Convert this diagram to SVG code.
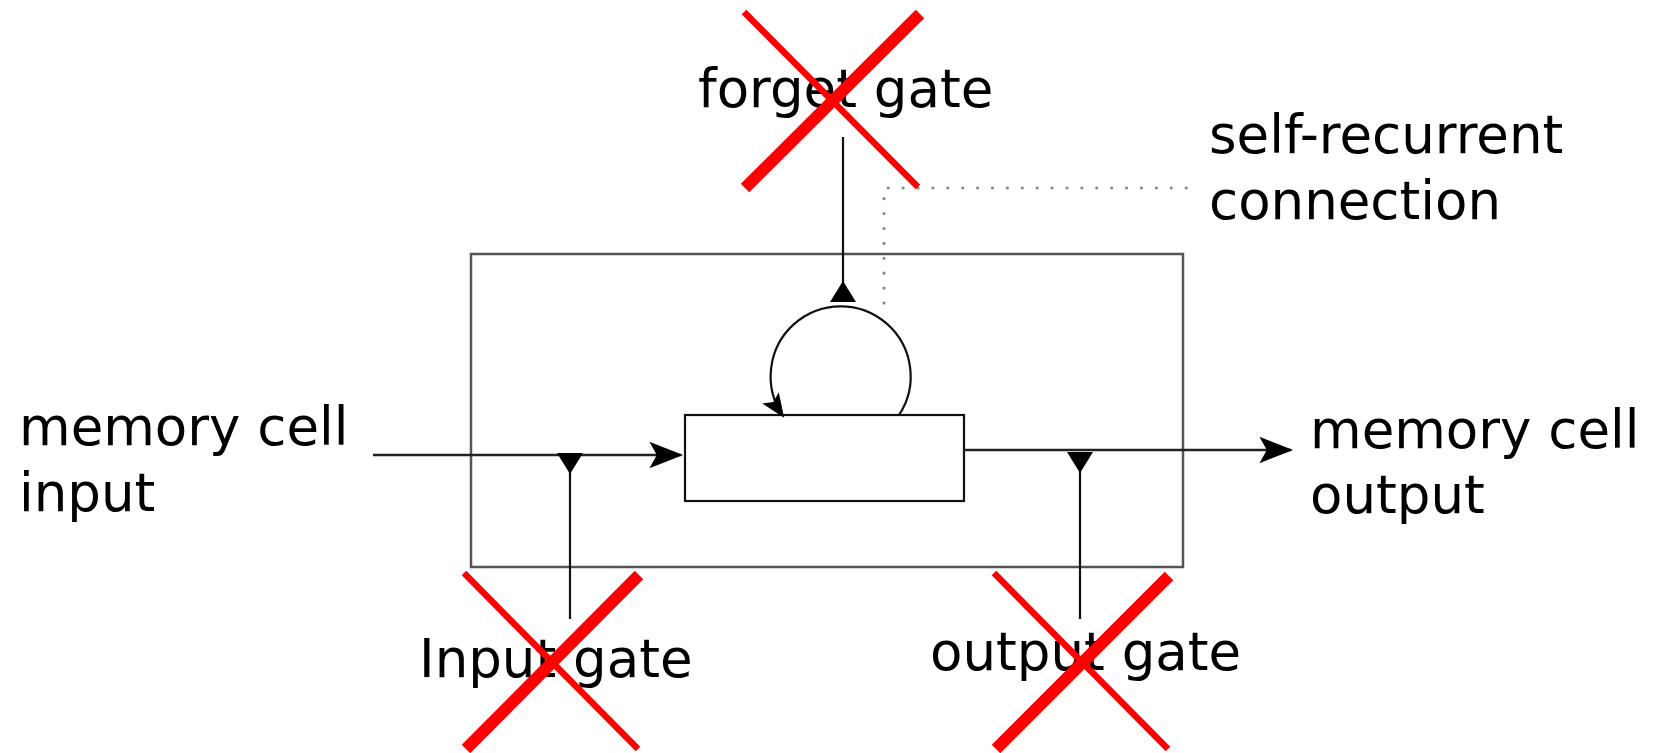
<svg xmlns="http://www.w3.org/2000/svg" width="1670" height="753" viewBox="0 0 1670 753">
  <style>
    .lbl { font-family: "DejaVu Sans", "Liberation Sans", sans-serif; font-size: 53px; fill: #000; }
    .box { fill: none; stroke: #555; stroke-width: 2.5; }
    .cell { fill: #fff; stroke: #111; stroke-width: 2.2; }
    .conn { fill: none; stroke: #222; stroke-width: 2.5; }
    .gate { fill: none; stroke: #111; stroke-width: 2.2; }
    .dots { fill: none; stroke: #888; stroke-width: 3.2; stroke-linecap: round; stroke-dasharray: 0 14.9; }
    .xthin { stroke: #ff0000; stroke-width: 6.5; stroke-linecap: butt; }
    .xthick { stroke: #ff0000; stroke-width: 12; stroke-linecap: butt; }
  </style>
  <defs>
    <marker id="arrow" markerUnits="userSpaceOnUse" markerWidth="40" markerHeight="40" viewBox="-34 -16 38 32" refX="0" refY="0" orient="auto" overflow="visible">
      <path d="M2,0 L-30,-12.5 L-23,0 L-30,12.5 Z" fill="#000"/>
    </marker>
    <marker id="loopArrow" markerUnits="userSpaceOnUse" markerWidth="30" markerHeight="30" viewBox="-26 -13 30 26" refX="0" refY="0" orient="auto" overflow="visible">
      <path d="M2,0 L-22,-10 L-17,0 L-22,10 Z" fill="#000"/>
    </marker>
    <marker id="gateTri" markerUnits="userSpaceOnUse" markerWidth="30" markerHeight="30" viewBox="-24 -15 28 30" refX="0" refY="0" orient="auto" overflow="visible">
      <path d="M0,-13 L0,13 L-21,0 Z" fill="#000"/>
    </marker>
  </defs>

  <g id="lstm-block">
    <rect class="box" x="471" y="254" width="712" height="313"/>
  </g>

  <g id="memory-cell">
    <rect class="cell" x="685" y="415" width="279" height="86"/>
  </g>

  <g id="connectors">
    <line class="conn" x1="373" y1="455" x2="681" y2="455" marker-end="url(#arrow)"/>
    <line class="conn" x1="964" y1="450" x2="1291" y2="450" marker-end="url(#arrow)"/>
    <line class="gate" x1="570" y1="619" x2="570" y2="453" marker-end="url(#gateTri)"/>
    <line class="gate" x1="1080" y1="619" x2="1080" y2="452" marker-end="url(#gateTri)"/>
    <line class="gate" x1="843" y1="137" x2="843" y2="302" marker-end="url(#gateTri)"/>
    <path class="gate" d="M 899 415 A 70 70 0 1 0 783 416" marker-end="url(#loopArrow)"/>
    <path class="dots" d="M 884 303 V 188 H 1187"/>
  </g>

  <g id="label-forget-gate">
    <text class="lbl" x="698" y="107">forget gate</text>
  </g>
  <g id="label-self-recurrent">
    <text class="lbl" x="1209" y="153">self-recurrent</text>
    <text class="lbl" x="1209" y="219">connection</text>
  </g>
  <g id="label-cell-input">
    <text class="lbl" x="19" y="445">memory cell</text>
    <text class="lbl" x="19" y="511">input</text>
  </g>
  <g id="label-cell-output">
    <text class="lbl" x="1310" y="448">memory cell</text>
    <text class="lbl" x="1310" y="513">output</text>
  </g>
  <g id="label-input-gate">
    <text class="lbl" x="419" y="677">Input gate</text>
  </g>
  <g id="label-output-gate">
    <text class="lbl" x="930" y="670">output gate</text>
  </g>

  <g id="cross-forget">
    <line class="xthin" x1="744" y1="12" x2="918" y2="187"/>
    <line class="xthick" x1="745" y1="188" x2="920" y2="14"/>
  </g>
  <g id="cross-input">
    <line class="xthin" x1="464" y1="573" x2="638" y2="749"/>
    <line class="xthick" x1="466" y1="749" x2="639" y2="575"/>
  </g>
  <g id="cross-output">
    <line class="xthin" x1="994" y1="573" x2="1168" y2="749"/>
    <line class="xthick" x1="996" y1="749" x2="1169" y2="576"/>
  </g>
</svg>
